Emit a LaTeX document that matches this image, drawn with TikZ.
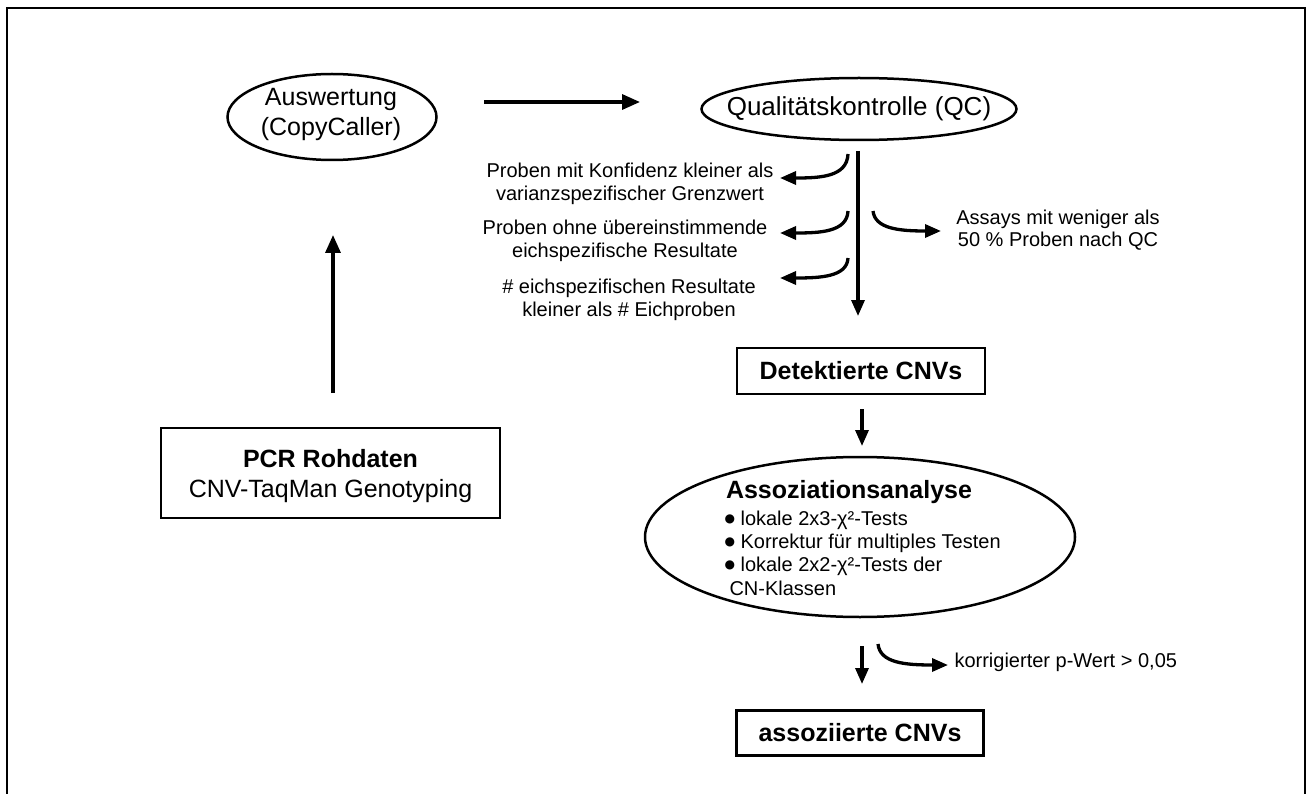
\documentclass[tikz,border=0pt]{standalone}
\usepackage{fontspec}
\setmainfont{Liberation Sans}
\newfontfamily\dejavu{DejaVu Sans}
\newcommand{\bul}{\raisebox{3pt}{\dejavu\fontsize{12}{12}\selectfont ●}}
\usetikzlibrary{shapes.geometric,arrows.meta}
\begin{document}
\begin{tikzpicture}[x=1pt,y=-1pt,
  big/.style={font=\fontsize{25}{30}\selectfont},
  bigb/.style={font=\fontsize{25}{30}\selectfont\bfseries},
  small/.style={font=\fontsize{20}{22.5}\selectfont},
  oval/.style={draw,ellipse,line width=2.5pt,inner sep=0pt},
  boxnode/.style={draw,rectangle,line width=2.8pt,inner sep=0pt},
  arr/.style={line width=3.3pt,-{Triangle[length=18pt,width=15pt]}},
  carr/.style={line width=3.3pt,-{Triangle[length=16pt,width=13pt]}}]
\useasboundingbox (0,0) rectangle (1306,794);
\draw[line width=2.2pt] (7,830) -- (7,8) -- (1305,8) -- (1305,830);

% nodes
\node[oval,minimum width=209,minimum height=86] (ausw) at (332,117) {};
\node[big,align=center] (auswtext) at (331,114) {Auswertung\\(CopyCaller)};
\node[oval,minimum width=315,minimum height=62] (qc) at (859,109) {};
\node[font=\fontsize{26}{30}\selectfont] (qctext) at (859,109) {Qualitätskontrolle (QC)};
\node[boxnode,minimum width=339,minimum height=90] (pcr) at (330.5,473) {};
\node[big,align=center] (pcrtext) at (330.5,476) {\textbf{PCR Rohdaten}\\CNV-TaqMan Genotyping};
\node[boxnode,minimum width=248,minimum height=46,bigb] (det) at (861,371) {Detektierte CNVs};
\node[oval,minimum width=430,minimum height=160] (assoc) at (860,537) {};
\node[bigb] (assoctitle) at (849,492) {Assoziationsanalyse};
\node[small,anchor=base west] (l1) at (721,525) {\bul\ lokale 2x3-χ²-Tests};
\node[small,anchor=base west] (l2) at (721,548) {\bul\ Korrektur für multiples Testen};
\node[small,anchor=base west] (l3) at (721,571) {\bul\ lokale 2x2-χ²-Tests der};
\node[small,anchor=base west] (l4) at (726,595) {CN-Klassen};
\node[boxnode,minimum width=247,minimum height=45,bigb] (assd) at (860,733) {assoziierte CNVs};

\node[small,align=center] (lab1) at (630,184) {Proben mit Konfidenz kleiner als\\varianzspezifischer Grenzwert};
\node[small,align=center] (lab2) at (625,241) {Proben ohne übereinstimmende\\eichspezifische Resultate};
\node[small,align=center] (lab3) at (629,300) {\# eichspezifischen Resultate\\kleiner als \# Eichproben};
\node[small,align=center] (lab4) at (1058,230) {Assays mit weniger als\\50 \% Proben nach QC};
\node[small,anchor=west] (lab5) at (951,662) {korrigierter p-Wert > 0,05};

% coordinates for free-standing arrows
\coordinate (up1) at (333,393);
\coordinate (up2) at (333,235);
\coordinate (h1) at (484,102);
\coordinate (h2) at (640,102);
\coordinate (v1) at (858,151);
\coordinate (v2) at (858,316);
\coordinate (d1) at (862,409);
\coordinate (d2) at (862,446);
\coordinate (e1) at (862,646);
\coordinate (e2) at (862,684);

\draw[arr] (up1) -- (up2);
\draw[arr] (h1) -- (h2);
\draw[carr] (v1) -- (v2);
\draw[carr] (d1) -- (d2);
\draw[carr] (e1) -- (e2);

% curved branch arrows
\coordinate (c1s) at (848,154);
\coordinate (c1e) at (780,178);
\coordinate (c2s) at (848,211);
\coordinate (c2e) at (780,233);
\coordinate (c3s) at (848,258);
\coordinate (c3e) at (780,278);
\coordinate (c4s) at (873,211);
\coordinate (c4e) at (941,231);
\coordinate (c5s) at (878,644);
\coordinate (c5e) at (948,665);
\draw[carr] (c1s) .. controls (847,177) and (820,178) .. (c1e);
\draw[carr] (c2s) .. controls (847,232) and (820,233) .. (c2e);
\draw[carr] (c3s) .. controls (847,277) and (820,278) .. (c3e);
\draw[carr] (c4s) .. controls (875,229) and (900,231) .. (c4e);
\draw[carr] (c5s) .. controls (880,663) and (905,665) .. (c5e);
\end{tikzpicture}
\end{document}
